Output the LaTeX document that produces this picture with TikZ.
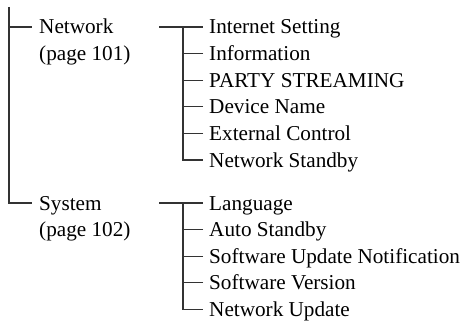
\documentclass[tikz,border=0pt]{standalone}
\usepackage{fontspec}
\setmainfont{Liberation Serif}
\begin{document}
\begin{tikzpicture}[x=1pt,y=-1pt,
  txt/.style={anchor=base west, inner sep=0pt, font=\fontsize{21.2}{25}\selectfont},
  ln/.style={line width=1.1pt, black!80}]
\useasboundingbox[fill=white] (0,0) rectangle (462,321);
% left column
\coordinate (root) at (9,7);
\coordinate (netin) at (32,27);
\coordinate (sysin) at (32,203);
\node[txt] (net) at (39,34) {Network};
\node[txt] (netp) at (39,60.6) {(page 101)};
\node[txt] (sys) at (39,210) {System};
\node[txt] (sysp) at (39,236.6) {(page 102)};
\draw[ln] (root) |- (sysin);
\draw[ln] (root |- netin) -- (netin);
% network items
\coordinate (netout) at (159,27);
\foreach \t [count=\i] in {Internet Setting, Information, PARTY STREAMING, Device Name, External Control, Network Standby} {
  \pgfmathsetmacro\yy{27+(\i-1)*26.6}
  \node[txt] (n\i) at (209,\yy+7) {\t};
  \coordinate (nt\i) at (203,\yy);
}
\draw[ln] (netout) -- (nt1);
\draw[ln] (183,27) |- (nt6);
\foreach \i in {2,...,5} \draw[ln] (nt\i) -- ++(-20,0);
% system items
\coordinate (sysout) at (159,203);
\foreach \t [count=\i] in {Language, Auto Standby, Software Update Notification, Software Version, Network Update} {
  \pgfmathsetmacro\yy{203+(\i-1)*26.6}
  \node[txt] (s\i) at (209,\yy+7) {\t};
  \coordinate (st\i) at (203,\yy);
}
\draw[ln] (sysout) -- (st1);
\draw[ln] (183,203) |- (st5);
\foreach \i in {2,...,4} \draw[ln] (st\i) -- ++(-20,0);
\end{tikzpicture}
\end{document}
